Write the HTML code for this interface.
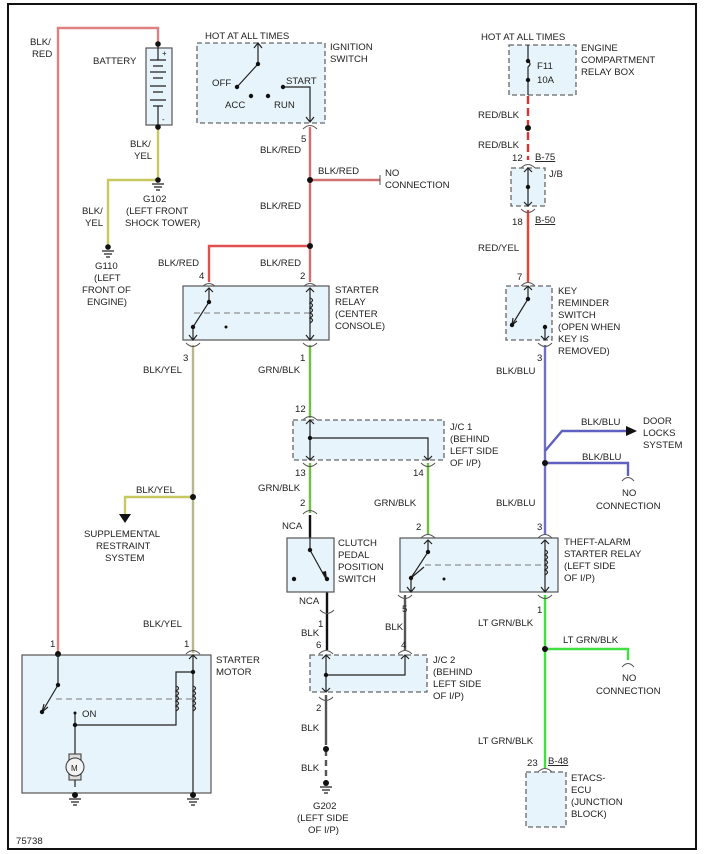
<!DOCTYPE html>
<html><head><meta charset="utf-8"><style>
html,body{margin:0;padding:0;background:#fff}
svg{display:block}
text{font-family:"Liberation Sans",Arial,sans-serif;font-size:9.6px;fill:#222}
.bx{fill:#e8f4fb;stroke:#555;stroke-width:1.2}
.db{fill:#e8f4fb;stroke:#666;stroke-width:1.3;stroke-dasharray:5,3}
.k{stroke:#222;stroke-width:1.2;fill:none}
.g{stroke:#555;stroke-width:1;fill:none}
</style></head><body>
<svg width="704" height="854" viewBox="0 0 704 854" xmlns="http://www.w3.org/2000/svg">
<rect x="8" y="4" width="688" height="845" fill="#fff" stroke="#111" stroke-width="2"/>

<!-- wires -->
<g fill="none" stroke-width="2.4">
<path d="M58 653V28H158V44" stroke="#e08080"/>
<path d="M158 127V180H108V245" stroke="#c8c860"/>
<path d="M310 127V282" stroke="#d07070"/>
<path d="M310 180H380" stroke="#d07070"/>
<path d="M310 246H209V282" stroke="#e05050"/>
<path d="M193 345V653" stroke="#b8b890"/>
<path d="M193 497H125V515" stroke="#c8c860"/>
<path d="M310 345V418" stroke="#70c040"/>
<path d="M310 463V513" stroke="#70c040"/>
<path d="M428 463V535" stroke="#70c040"/>
<path d="M310 515V538" stroke="#111"/>
<path d="M327 592V650" stroke="#111"/>
<path d="M405 595V650" stroke="#555"/>
<path d="M326 695V745" stroke="#555"/>
<path d="M326 750V785" stroke="#555" stroke-dasharray="6,4"/>
<path d="M528 96V160" stroke="#e03030" stroke-dasharray="8,4"/>
<path d="M528 210V282" stroke="#ee4030"/>
<path d="M545 345V535" stroke="#7070c0"/>
<path d="M545 451L562 431H626" stroke="#6060c0"/>
<path d="M545 463H628V476" stroke="#6060c0"/>
<path d="M545 595V768" stroke="#40e040"/>
<path d="M545 649H628V660" stroke="#40e040"/>
</g>
<path d="M626 426L637 431L626 436Z" fill="#111"/>
<path d="M119 514L125 523L131 514Z" fill="#111"/>

<!-- battery -->
<rect class="bx" x="146" y="48" width="26" height="77"/>
<g class="k"><path d="M158 44V60M150 60H166M153 66H163M150 72H166M153 78H163M150 86H166M153 92H163M150 100H166M153 106H163M158 106V125"/></g>
<text x="162" y="56" style="font-size:8px">+</text><text x="162" y="122" style="font-size:8px">-</text>
<circle cx="158" cy="44" r="2.8" fill="#111"/><circle cx="158" cy="127" r="2.8" fill="#111"/>
<text x="93" y="64">BATTERY</text>
<text x="30" y="45">BLK/</text><text x="32" y="57">RED</text>
<text x="130" y="147">BLK/</text><text x="134" y="159">YEL</text>
<circle cx="158" cy="180" r="2.8" fill="#111"/><path class="k" d="M152 184H164M154 187H162M156 190H160"/>
<text x="143" y="202">G102</text><text x="126" y="214">(LEFT FRONT</text><text x="125" y="226">SHOCK TOWER)</text>
<text x="82" y="214">BLK/</text><text x="85" y="226">YEL</text>
<circle cx="108" cy="247" r="2.8" fill="#111"/><path class="k" d="M102 251H114M104 254H112M106 257H110"/>
<text x="95" y="269">G110</text><text x="94" y="281">(LEFT</text><text x="82" y="293">FRONT OF</text><text x="87" y="305">ENGINE)</text>

<!-- ignition switch -->
<rect class="db" x="197" y="43" width="128" height="80"/>
<text x="205" y="39">HOT AT ALL TIMES</text>
<text x="330" y="50">IGNITION</text><text x="330" y="62">SWITCH</text>
<path class="k" d="M258 43V64L237 87M254 48L258 43L262 48M283 87H310V122M306 117L310 122L314 117"/>
<circle cx="258" cy="64" r="2.2" fill="#111"/><circle cx="237" cy="87" r="2.2" fill="#111"/><circle cx="251" cy="96" r="2.2" fill="#111"/><circle cx="268" cy="96" r="2.2" fill="#111"/><circle cx="283" cy="87" r="2.2" fill="#111"/>
<text x="212" y="86">OFF</text><text x="286" y="84">START</text><text x="225" y="108">ACC</text><text x="274" y="108">RUN</text>
<path class="g" d="M303 129Q310 122 317 129"/>
<text x="301" y="142">5</text><text x="260" y="153">BLK/RED</text>
<circle cx="310" cy="180" r="3" fill="#111"/>
<text x="318" y="174">BLK/RED</text>
<path class="g" d="M380 175V185"/>
<text x="385" y="176">NO</text><text x="385" y="188">CONNECTION</text>
<text x="260" y="209">BLK/RED</text>
<circle cx="310" cy="246" r="3" fill="#111"/>
<text x="158" y="266">BLK/RED</text><text x="260" y="266">BLK/RED</text>
<text x="199" y="279">4</text><text x="300" y="279">2</text>

<!-- starter relay -->
<path class="g" d="M202 287Q209 280 216 287M303 287Q310 280 317 287"/>
<rect class="bx" x="183" y="286" width="146" height="54"/>
<path class="k" d="M209 288V302L193 327V340M205 292L209 288L213 292M189 335L193 340L197 335M310 288V340M306 292L310 288L314 292M306 335L310 340L314 335"/>
<path d="M194 313H310" stroke="#777" stroke-dasharray="6,4" fill="none"/>
<path class="k" d="M310 298q5 2 0 5q5 2 0 5q5 2 0 5q5 2 0 5q5 2 0 5"/>
<circle cx="209" cy="302" r="2.2" fill="#111"/><circle cx="193" cy="327" r="2.2" fill="#111"/><circle cx="226" cy="327" r="1.5" fill="#111"/>
<path class="g" d="M186 343Q193 350 200 343M303 343Q310 350 317 343"/>
<text x="335" y="293">STARTER</text><text x="335" y="305">RELAY</text><text x="335" y="317">(CENTER</text><text x="335" y="329">CONSOLE)</text>
<text x="183" y="361">3</text><text x="300" y="361">1</text>
<text x="143" y="373">BLK/YEL</text><text x="258" y="373">GRN/BLK</text>
<circle cx="193" cy="497" r="3" fill="#111"/>
<text x="136" y="493">BLK/YEL</text>
<text x="84" y="537">SUPPLEMENTAL</text><text x="96" y="549">RESTRAINT</text><text x="105" y="561">SYSTEM</text>

<!-- J/C1 -->
<text x="295" y="412">12</text>
<path class="g" d="M303 420Q310 413 317 420M303 463Q310 470 317 463M421 463Q428 470 435 463"/>
<rect class="db" x="293" y="420" width="151" height="40"/>
<path class="k" d="M310 420V460M310 438H428V460M306 424L310 420L314 424M306 456L310 460L314 456M424 456L428 460L432 456"/>
<circle cx="310" cy="438" r="2.2" fill="#111"/>
<text x="450" y="430">J/C 1</text><text x="450" y="442">(BEHIND</text><text x="450" y="454">LEFT SIDE</text><text x="450" y="466">OF I/P)</text>
<text x="295" y="476">13</text><text x="413" y="476">14</text>
<text x="258" y="491">GRN/BLK</text><text x="374" y="506">GRN/BLK</text>
<text x="300" y="506">2</text><text x="416" y="530">2</text>

<!-- clutch -->
<path class="g" d="M303 514Q310 507 317 514"/>
<text x="282" y="529">NCA</text>
<rect class="bx" x="287" y="538" width="47" height="54"/>
<path class="k" d="M310 538V550L326 579"/>
<path d="M322 572L327 579L326 571Z" fill="#111"/>
<circle cx="310" cy="550" r="2.2" fill="#111"/><circle cx="327" cy="579" r="2.2" fill="#111"/><circle cx="294" cy="579" r="2.2" fill="#111"/>
<text x="338" y="546">CLUTCH</text><text x="338" y="558">PEDAL</text><text x="338" y="570">POSITION</text><text x="338" y="582">SWITCH</text>
<text x="299" y="604">NCA</text>
<path class="g" d="M320 610Q327 617 334 610"/>
<text x="318" y="627">1</text><text x="301" y="636">BLK</text><text x="316" y="648">6</text>
<path class="g" d="M319 654Q326 647 333 654M398 654Q405 647 412 654M319 697Q326 704 333 697"/>

<!-- theft relay -->
<path class="g" d="M421 538Q428 531 435 538M538 538Q545 531 552 538"/>
<rect class="bx" x="400" y="538" width="158" height="54"/>
<path class="k" d="M428 540V552L411 578V592M424 544L428 540L432 544M407 587L411 592L415 587M545 540V592M541 544L545 540L549 544M541 587L545 592L549 587"/>
<path d="M424 567L411 578L414 573" class="k"/>
<path d="M425 565H545" stroke="#777" stroke-dasharray="6,4" fill="none"/>
<path class="k" d="M545 550q5 2 0 5q5 2 0 5q5 2 0 5q5 2 0 5q5 2 0 5"/>
<circle cx="428" cy="552" r="2.2" fill="#111"/><circle cx="411" cy="578" r="2.2" fill="#111"/><circle cx="444" cy="579" r="1.5" fill="#111"/>
<path class="g" d="M398 595Q405 602 412 595M538 595Q545 602 552 595"/>
<text x="564" y="545">THEFT-ALARM</text><text x="564" y="557">STARTER RELAY</text><text x="564" y="569">(LEFT SIDE</text><text x="564" y="581">OF I/P)</text>
<text x="402" y="612">5</text><text x="385" y="630">BLK</text><text x="401" y="648">4</text>
<text x="537" y="530">3</text><text x="496" y="506">BLK/BLU</text>

<!-- J/C2 -->
<rect class="db" x="310" y="655" width="117" height="37"/>
<path class="k" d="M326 655V692M326 675H405V655M322 659L326 655L330 659M322 688L326 692L330 688M401 659L405 655L409 659"/>
<circle cx="326" cy="675" r="2.2" fill="#111"/>
<text x="433" y="663">J/C 2</text><text x="433" y="675">(BEHIND</text><text x="433" y="687">LEFT SIDE</text><text x="433" y="699">OF I/P)</text>
<text x="316" y="711">2</text><text x="301" y="731">BLK</text>
<circle cx="326" cy="749" r="3" fill="#111"/>
<text x="301" y="771">BLK</text>
<circle cx="326" cy="783" r="3" fill="#111"/><path class="k" d="M320 787H332M322 790H330M324 793H328"/>
<text x="313" y="809">G202</text><text x="297" y="821">(LEFT SIDE</text><text x="308" y="833">OF I/P)</text>

<!-- starter motor -->
<text x="143" y="627">BLK/YEL</text>
<text x="50" y="647">1</text><text x="184" y="647">1</text>
<path class="g" d="M186 654Q193 647 200 654"/>
<rect class="bx" x="22" y="655" width="189" height="138"/>
<circle cx="58" cy="654" r="3" fill="#111"/>
<path class="k" d="M58 654V685L42 712M193 655V793M189 659L193 655L197 659M193 672H176V725H75V787M75 712V725"/>
<path d="M44 704L42 712L48 707" class="k"/>
<path d="M56 699H193" stroke="#777" stroke-dasharray="6,4" fill="none"/>
<path class="k" d="M176 686q5 2 0 5q5 2 0 5q5 2 0 5q5 2 0 5q5 2 0 5M193 686q5 2 0 5q5 2 0 5q5 2 0 5q5 2 0 5q5 2 0 5"/>
<circle cx="58" cy="685" r="2.2" fill="#111"/><circle cx="42" cy="712" r="2.2" fill="#111"/><circle cx="75" cy="713" r="1.5" fill="#111"/><circle cx="75" cy="725" r="2.2" fill="#111"/><circle cx="193" cy="672" r="2.2" fill="#111"/>
<text x="82" y="717">ON</text>
<rect x="69" y="754" width="12" height="26" fill="#ddd" stroke="#333"/>
<circle cx="75" cy="767" r="9" fill="#f2f2f2" stroke="#333"/>
<text x="71" y="771" style="font-size:8px">M</text>
<circle cx="75" cy="795" r="3" fill="#111"/><path class="k" d="M69 799H81M71 802H79M73 805H77"/>
<circle cx="193" cy="795" r="3" fill="#111"/><path class="k" d="M187 799H199M189 802H197M191 805H195"/>
<text x="216" y="663">STARTER</text><text x="216" y="675">MOTOR</text>
<text x="16" y="844">75738</text>

<!-- right column -->
<text x="481" y="40">HOT AT ALL TIMES</text>
<rect class="db" x="509" y="45" width="67" height="50"/>
<path class="k" d="M528 45V61q4 3 0 6V83M528 83V95"/>
<circle cx="528" cy="61" r="2.2" fill="#111"/><circle cx="528" cy="80" r="2.2" fill="#111"/>
<text x="537" y="69">F11</text><text x="537" y="83">10A</text>
<text x="581" y="51">ENGINE</text><text x="581" y="63">COMPARTMENT</text><text x="581" y="75">RELAY BOX</text>
<text x="478" y="118">RED/BLK</text>
<circle cx="528" cy="128" r="3" fill="#111"/>
<text x="478" y="148">RED/BLK</text>
<text x="512" y="161">12</text><text x="535" y="160" text-decoration="underline">B-75</text>
<path class="g" d="M521 168Q528 161 535 168M521 209Q528 216 535 209"/>
<rect class="db" x="511" y="168" width="34" height="38"/>
<path class="k" d="M528 168V206M524 172L528 168L532 172M524 202L528 206L532 202"/>
<circle cx="528" cy="187" r="2.2" fill="#111"/>
<text x="549" y="177">J/B</text>
<text x="512" y="225">18</text><text x="535" y="223" text-decoration="underline">B-50</text>
<text x="478" y="251">RED/YEL</text>
<text x="517" y="280">7</text>
<path class="g" d="M521 286Q528 279 535 286M538 343Q545 350 552 343"/>
<rect class="db" x="506" y="286" width="46" height="54"/>
<path class="k" d="M528 286V299L512 325M545 327V340M524 290L528 286L532 290M541 336L545 340L549 336"/>
<path d="M513 318L512 325L517 321" class="k"/>
<circle cx="528" cy="299" r="2.2" fill="#111"/><circle cx="512" cy="325" r="2.2" fill="#111"/><circle cx="545" cy="327" r="2.2" fill="#111"/>
<text x="558" y="294">KEY</text><text x="558" y="306">REMINDER</text><text x="558" y="318">SWITCH</text><text x="558" y="330">(OPEN WHEN</text><text x="558" y="342">KEY IS</text><text x="558" y="354">REMOVED)</text>
<text x="537" y="361">3</text><text x="496" y="374">BLK/BLU</text>
<text x="581" y="425">BLK/BLU</text>
<text x="643" y="424">DOOR</text><text x="643" y="436">LOCKS</text><text x="643" y="448">SYSTEM</text>
<circle cx="545" cy="463" r="3" fill="#111"/>
<text x="582" y="460">BLK/BLU</text>
<path class="g" d="M622 481Q628 474 634 481"/>
<text x="622" y="496">NO</text><text x="596" y="509">CONNECTION</text>
<text x="537" y="613">1</text><text x="478" y="626">LT GRN/BLK</text>
<circle cx="545" cy="649" r="3" fill="#111"/>
<text x="563" y="643">LT GRN/BLK</text>
<path class="g" d="M622 667Q628 660 634 667"/>
<text x="622" y="681">NO</text><text x="596" y="694">CONNECTION</text>
<text x="478" y="744">LT GRN/BLK</text>
<text x="548" y="764" text-decoration="underline">B-48</text>
<text x="527" y="766">23</text>
<path class="g" d="M538 772Q545 765 552 772"/>
<rect class="db" x="526" y="772" width="40" height="55"/>
<text x="571" y="781">ETACS-</text><text x="571" y="793">ECU</text><text x="571" y="805">(JUNCTION</text><text x="571" y="817">BLOCK)</text>
</svg>
</body></html>
